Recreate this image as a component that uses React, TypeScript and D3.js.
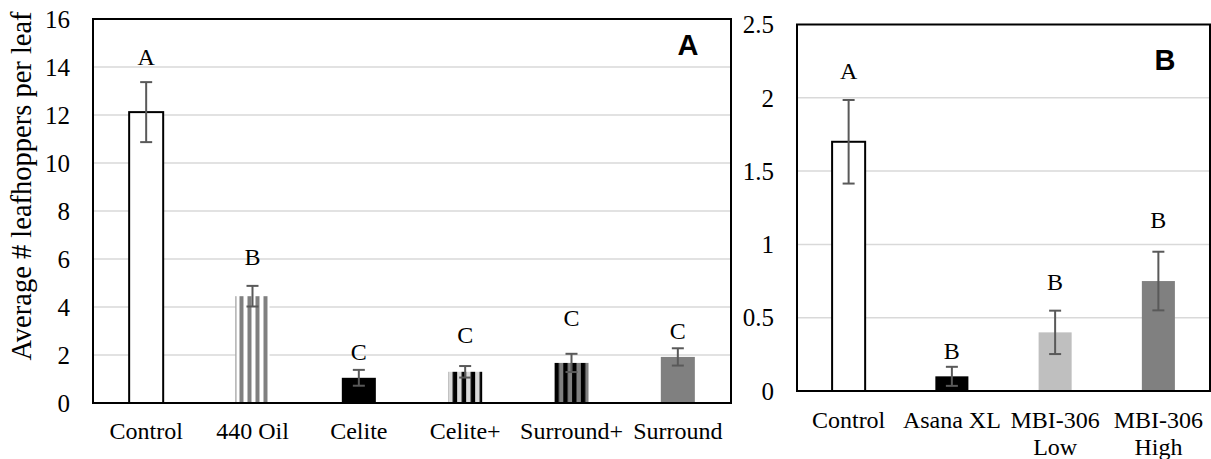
import React, { useEffect, useRef } from 'react';
import * as d3 from 'd3';

// panel A: leafhoppers per leaf, six treatments
const catsA = ['Control', '440 Oil', 'Celite', 'Celite+', 'Surround+', 'Surround'];
const meansA = [12.12, 4.45, 1.05, 1.3, 1.67, 1.92];
const errA = [1.25, 0.43, 0.33, 0.24, 0.38, 0.36];
const lettersA = ['A', 'B', 'C', 'C', 'C', 'C'];
const letterAtA = [14.1, 5.75, 1.8, 2.5, 3.2, 2.67];
const ticksA = [0, 2, 4, 6, 8, 10, 12, 14, 16];

// panel B: four treatments
const catsB = ['Control', 'Asana XL', 'MBI-306\nLow', 'MBI-306\nHigh'];
const meansB = [1.7, 0.1, 0.4, 0.75];
const errB = [0.285, 0.065, 0.148, 0.2];
const lettersB = ['A', 'B', 'B', 'B'];
const letterAtB = [2.13, 0.22, 0.69, 1.11];
const ticksB = [0, 0.5, 1, 1.5, 2, 2.5];

const serif = '"Liberation Serif", "Times New Roman", serif';

type Fill = { solid?: string; outline?: boolean; stripe?: [string, string, number] };

const fillsA: Fill[] = [
    { solid: '#ffffff', outline: true },
    { stripe: ['#ffffff', '#808080', 8] },
    { solid: '#000000' },
    { stripe: ['#d9d9d9', '#000000', 9] },
    { stripe: ['#000000', '#808080', 8.8] },
    { solid: '#808080' },
];
const fillsB: Fill[] = [
    { solid: '#ffffff', outline: true },
    { solid: '#000000' },
    { solid: '#bfbfbf' },
    { solid: '#808080' },
];

function drawPanel(svg: any, id: string, o: any) {
    const g = svg.append('g');
    const x = d3.scaleBand().domain(o.cats).range([o.left, o.right]);
    const y = d3.scaleLinear().domain([0, o.max]).range([o.bottom, o.top]);
    const bw = x.bandwidth() * 0.32;

    // gridlines
    g.selectAll('line.grid')
        .data(o.ticks.filter((t: number) => t > 0 && t < o.max))
        .enter().append('line')
        .attr('x1', o.left).attr('x2', o.right)
        .attr('y1', (d: number) => y(d)).attr('y2', (d: number) => y(d))
        .attr('stroke', '#d9d9d9').attr('stroke-width', 1.5);

    // y tick labels
    g.selectAll('text.tick')
        .data(o.ticks)
        .enter().append('text')
        .attr('x', o.left - 23).attr('y', (d: number) => y(d))
        .attr('dy', '0.35em').attr('text-anchor', 'end')
        .style('font-family', serif).style('font-size', '25px')
        .text((d: number) => d);

    const defs = svg.select('defs');

    o.cats.forEach((c: string, i: number) => {
        const bx = x(c)! + (x.bandwidth() - bw) / 2;
        const f: Fill = o.fills[i];
        let fill = f.solid || '#fff';
        if (f.stripe) {
            const pid = id + '-pat-' + i;
            const [bg, fg, period] = f.stripe;
            const p = defs.append('pattern')
                .attr('id', pid).attr('patternUnits', 'userSpaceOnUse')
                .attr('x', bx).attr('y', 0)
                .attr('width', period).attr('height', 10);
            p.append('rect').attr('width', period).attr('height', 10).attr('fill', bg);
            p.append('rect').attr('x', period / 2).attr('width', period / 2).attr('height', 10).attr('fill', fg);
            fill = `url(#${pid})`;
        }
        g.append('rect')
            .attr('x', bx).attr('y', y(o.means[i]))
            .attr('width', bw).attr('height', y(0) - y(o.means[i]))
            .attr('fill', fill)
            .attr('stroke', f.outline ? '#000' : 'none')
            .attr('stroke-width', 2);
        if (f.stripe && f.stripe[0] === '#ffffff') {
            // thin edge on the open-striped bar
            g.append('line').attr('x1', bx + 0.5).attr('x2', bx + 0.5)
                .attr('y1', y(o.means[i])).attr('y2', y(0))
                .attr('stroke', '#999').attr('stroke-width', 1);
        }

        // error bar
        const cx = x(c)! + x.bandwidth() / 2;
        const hi = y(o.means[i] + o.err[i]);
        const lo = y(o.means[i] - o.err[i]);
        const eb = g.append('g').attr('stroke', '#595959').attr('stroke-width', 2);
        eb.append('line').attr('x1', cx).attr('x2', cx).attr('y1', hi).attr('y2', lo);
        eb.append('line').attr('x1', cx - 6).attr('x2', cx + 6).attr('y1', hi).attr('y2', hi);
        eb.append('line').attr('x1', cx - 6).attr('x2', cx + 6).attr('y1', lo).attr('y2', lo);

        // significance letter
        g.append('text')
            .attr('x', cx).attr('y', y(o.letterAt[i]))
            .attr('text-anchor', 'middle')
            .style('font-family', serif).style('font-size', '24px')
            .text(o.letters[i]);

        // category label
        const lines = c.split('\n');
        const t = g.append('text')
            .attr('x', cx).attr('y', o.labelY)
            .attr('text-anchor', 'middle')
            .style('font-family', serif).style('font-size', '24px');
        lines.forEach((s, k) => {
            t.append('tspan').attr('x', cx).attr('dy', k === 0 ? 0 : 27).text(s);
        });
    });

    // plot frame
    g.append('rect')
        .attr('x', o.left).attr('y', o.top)
        .attr('width', o.right - o.left).attr('height', o.bottom - o.top)
        .attr('fill', 'none').attr('stroke', '#000').attr('stroke-width', 2);

    // panel letter
    g.append('text')
        .attr('x', o.tagX).attr('y', o.tagY)
        .attr('text-anchor', 'middle')
        .style('font-family', '"Liberation Sans", Arial, sans-serif')
        .style('font-weight', 'bold').style('font-size', '29px')
        .text(id);
}

export default function App() {
    const ref = useRef<SVGSVGElement>(null);

    useEffect(() => {
        const svg = d3.select(ref.current);
        svg.selectAll('*').remove();
        svg.append('defs');

        drawPanel(svg, 'A', {
            cats: catsA, means: meansA, err: errA, letters: lettersA, letterAt: letterAtA,
            ticks: ticksA, max: 16, fills: fillsA,
            left: 93, right: 731, top: 19, bottom: 403, labelY: 439, tagX: 688, tagY: 55,
        });
        drawPanel(svg, 'B', {
            cats: catsB, means: meansB, err: errB, letters: lettersB, letterAt: letterAtB,
            ticks: ticksB, max: 2.5, fills: fillsB,
            left: 797, right: 1210, top: 24.5, bottom: 391, labelY: 428, tagX: 1165, tagY: 70,
        });

        svg.append('text')
            .attr('transform', 'translate(31,186) rotate(-90)')
            .attr('text-anchor', 'middle')
            .style('font-family', serif).style('font-size', '28.5px')
            .text('Average # leafhoppers per leaf');
    }, []);

    return (
        <svg ref={ref} width={1211} height={459}
            style={{ position: 'absolute', left: 0, top: 0, background: '#fff' }} />
    );
}
